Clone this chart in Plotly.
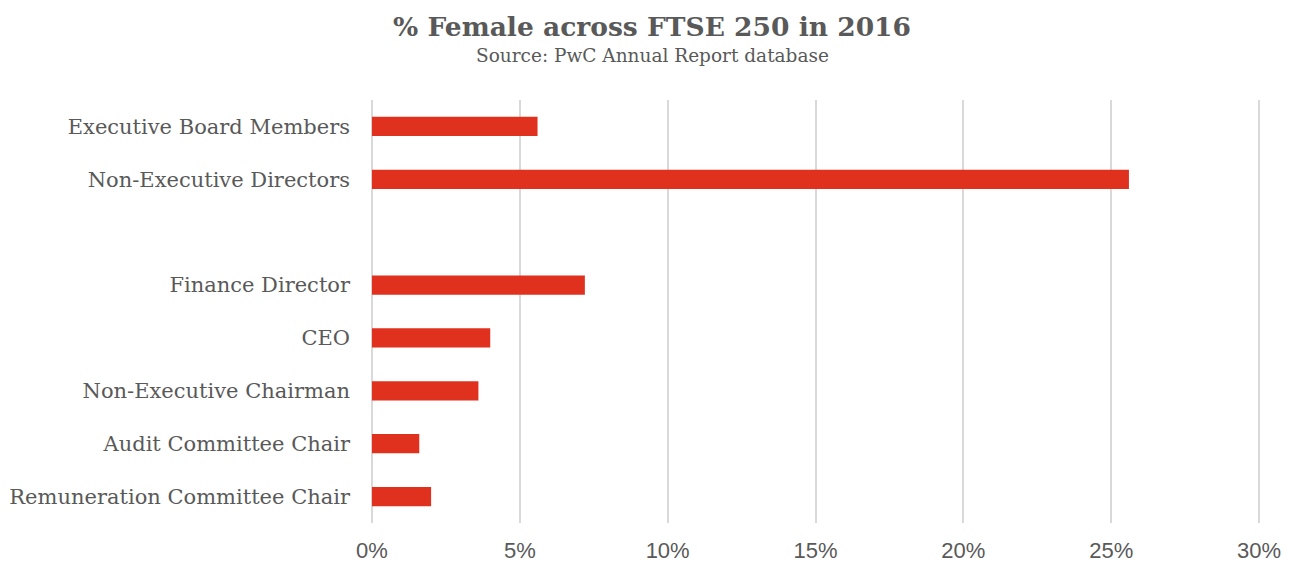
import plotly.graph_objects as go

categories = ["Executive Board Members", "Non-Executive Directors", " ",
              "Finance Director", "CEO", "Non-Executive Chairman",
              "Audit Committee Chair", "Remuneration Committee Chair"]
values = [5.6, 25.6, None, 7.2, 4.0, 3.6, 1.6, 2.0]
tick_vals = [0, 5, 10, 15, 20, 25, 30]
tick_text = ["0%", "5%", "10%", "15%", "20%", "25%", "30%"]

title_text = "% Female across FTSE 250 in 2016"
subtitle_text = "Source: PwC Annual Report database"

W, H = 1294, 562
PAD = 0.1  # small range padding so edge gridlines are drawn
PX_PER_UNIT = (1259 - 371.5) / 30
L = 371.5 - PAD * PX_PER_UNIT
R = W - (1259 + PAD * PX_PER_UNIT)
T, B = 99.5, 39

fig = go.Figure()
fig.add_trace(go.Bar(
    x=values, y=categories, orientation="h",
    marker=dict(color="#E0301E", line=dict(width=0)),
    width=0.366, hoverinfo="x+y",
))

gray = "#595959"
fig.update_layout(
    width=W, height=H,
    margin=dict(l=L, r=R, t=T, b=B, pad=0, autoexpand=False),
    paper_bgcolor="white", plot_bgcolor="white",
    showlegend=False,
    title=dict(text="<b>" + title_text + "</b>", xref="container", yref="container",
               x=652 / W, y=1 - 27 / H, xanchor="center", yanchor="middle",
               font=dict(family="DejaVu Serif", size=26.5, color=gray)),
    annotations=[dict(text=subtitle_text, xref="paper", yref="paper",
                      x=(652 - L) / (W - L - R), y=(H - B - 55) / (H - T - B),
                      xanchor="center", yanchor="middle", showarrow=False,
                      font=dict(family="DejaVu Serif", size=18.5, color=gray))],
    xaxis=dict(range=[-PAD, 30 + PAD], tickvals=tick_vals, ticktext=tick_text,
               showgrid=True, gridcolor="#D9D9D9", gridwidth=2,
               zeroline=True, zerolinecolor="#D9D9D9", zerolinewidth=2,
               showline=False, ticks="",
               ticklabelstandoff=12, automargin=False,
               tickfont=dict(family="Liberation Sans", size=22, color=gray),
               fixedrange=True),
    yaxis=dict(categoryorder="array", categoryarray=categories,
               range=[7.5, -0.5], showgrid=False, zeroline=False,
               showline=False, ticks="", ticklabelstandoff=18, automargin=False,
               tickfont=dict(family="DejaVu Serif", size=21, color=gray),
               fixedrange=True),
)

fig.write_html("out.html")
